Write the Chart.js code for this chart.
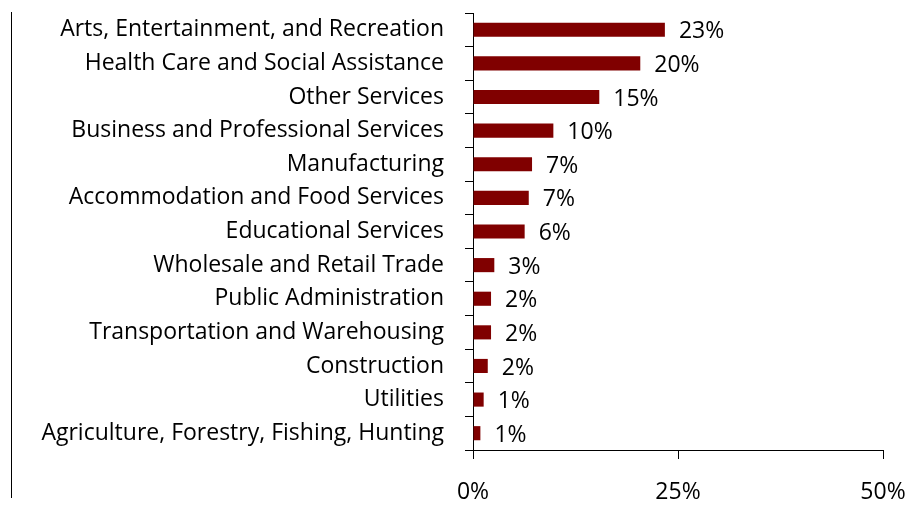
<!DOCTYPE html>
<html>
<head>
<meta charset="utf-8">
<script src="https://cdn.jsdelivr.net/npm/chart.js@4/dist/chart.umd.min.js"></script>
<style>
  html, body { margin: 0; padding: 0; background: #fff; }
  #wrap { width: 909px; height: 518px; }
</style>
</head>
<body>
<div id="wrap"><canvas id="industries" width="909" height="518"></canvas></div>
<script>
// industries, top to bottom
const industries = [
    'Arts, Entertainment, and Recreation',
    'Health Care and Social Assistance',
    'Other Services',
    'Business and Professional Services',
    'Manufacturing',
    'Accommodation and Food Services',
    'Educational Services',
    'Wholesale and Retail Trade',
    'Public Administration',
    'Transportation and Warehousing',
    'Construction',
    'Utilities',
    'Agriculture, Forestry, Fishing, Hunting'
];
// share of respondents, percent
const shares = [23.4, 20.4, 15.4, 9.8, 7.2, 6.8, 6.3, 2.6, 2.2, 2.2, 1.8, 1.3, 0.9];
const axisTicks = [0, 25, 50];

const FONT = '"Open Sans", Lato, sans-serif';
const FONT_SIZE = 23;

// value labels to the right of each bar
const barValues = {
    id: 'barValues',
    afterDatasetsDraw(chart) {
        const ctx = chart.ctx;
        const meta = chart.getDatasetMeta(0);
        ctx.save();
        ctx.font = FONT_SIZE + 'px ' + FONT;
        ctx.fillStyle = '#000';
        ctx.textAlign = 'left';
        ctx.textBaseline = 'middle';
        meta.data.forEach((bar, i) => {
            ctx.fillText(Math.round(shares[i]) + '%', bar.x + 14, bar.y + 2);
        });
        ctx.restore();
    }
};

// thin frame line on the left edge
const leftRule = {
    id: 'leftRule',
    beforeDraw(chart) {
        const ctx = chart.ctx;
        ctx.save();
        ctx.strokeStyle = '#000';
        ctx.lineWidth = 1;
        ctx.beginPath();
        ctx.moveTo(11.5, 12);
        ctx.lineTo(11.5, 498);
        ctx.stroke();
        ctx.restore();
    }
};

new Chart(document.getElementById('industries'), {
    type: 'bar',
    data: {
        labels: industries,
        datasets: [{
            data: shares,
            backgroundColor: '#800000',
            borderWidth: 0,
            barPercentage: 0.5,
            categoryPercentage: 0.84
        }]
    },
    options: {
        indexAxis: 'y',
        responsive: false,
        animation: false,
        layout: { padding: { left: 0, right: 26, top: 13, bottom: 0 } },
        plugins: {
            legend: { display: false },
            tooltip: { enabled: false }
        },
        scales: {
            x: {
                min: 0,
                max: 50,
                afterBuildTicks(scale) {
                    scale.ticks = axisTicks.map(v => ({ value: v }));
                },
                afterFit(scale) {
                    scale.height = 68;
                    scale.paddingLeft = 0;
                    scale.paddingRight = 0;
                },
                border: { display: true, color: '#000', width: 1 },
                grid: { drawOnChartArea: false, drawTicks: true, tickLength: 9, color: '#000' },
                ticks: {
                    padding: 20,
                    color: '#000',
                    font: { family: FONT, size: FONT_SIZE },
                    callback: v => v + '%'
                }
            },
            y: {
                afterFit(scale) {
                    scale.width = 473;
                    scale.paddingTop = 0;
                    scale.paddingBottom = 0;
                },
                border: { display: true, color: '#000', width: 1 },
                grid: { offset: true, drawOnChartArea: false, drawTicks: true, tickLength: 8, color: '#000' },
                ticks: {
                    padding: 21,
                    color: '#000',
                    autoSkip: false,
                    font: { family: FONT, size: FONT_SIZE }
                }
            }
        }
    },
    plugins: [barValues, leftRule]
});
</script>
</body>
</html>
